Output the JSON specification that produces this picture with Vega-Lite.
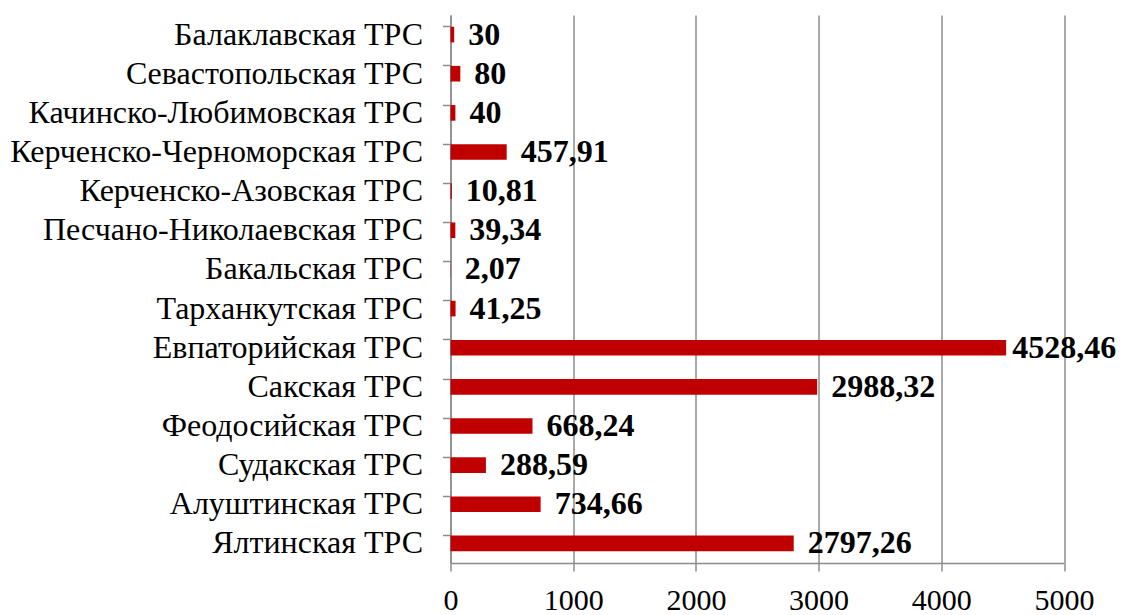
{
  "$schema": "https://vega.github.io/schema/vega-lite/v6.json",
  "width": 613.5,
  "height": 548,
  "autosize": {"type": "none"},
  "padding": {"left": 450.5, "top": 15, "right": 57, "bottom": 52},
  "background": "white",
  "config": {
    "view": {"stroke": null},
    "font": "Liberation Serif"
  },
  "data": {
    "values": [
      {"name": "Балаклавская ТРС", "value": 30, "label": "30"},
      {"name": "Севастопольская ТРС", "value": 80, "label": "80"},
      {"name": "Качинско-Любимовская ТРС", "value": 40, "label": "40"},
      {"name": "Керченско-Черноморская ТРС", "value": 457.91, "label": "457,91"},
      {"name": "Керченско-Азовская ТРС", "value": 10.81, "label": "10,81"},
      {"name": "Песчано-Николаевская ТРС", "value": 39.34, "label": "39,34"},
      {"name": "Бакальская ТРС", "value": 2.07, "label": "2,07"},
      {"name": "Тарханкутская ТРС", "value": 41.25, "label": "41,25"},
      {"name": "Евпаторийская ТРС", "value": 4528.46, "label": "4528,46"},
      {"name": "Сакская ТРС", "value": 2988.32, "label": "2988,32"},
      {"name": "Феодосийская ТРС", "value": 668.24, "label": "668,24"},
      {"name": "Судакская ТРС", "value": 288.59, "label": "288,59"},
      {"name": "Алуштинская ТРС", "value": 734.66, "label": "734,66"},
      {"name": "Ялтинская ТРС", "value": 2797.26, "label": "2797,26"}
    ]
  },
  "encoding": {
    "y": {
      "field": "name",
      "type": "nominal",
      "sort": null,
      "scale": {"paddingInner": 0.6, "paddingOuter": 0.3},
      "axis": {
        "title": null,
        "bandPosition": 0,
        "domainColor": "#8c8c8c",
        "domainWidth": 1.5,
        "tickColor": "#8c8c8c",
        "tickWidth": 1.5,
        "tickSize": 8,
        "labelPadding": 20,
        "labelFontSize": 32,
        "labelColor": "#000000",
        "labelFont": "Liberation Serif",
        "labelLimit": 0
      }
    },
    "x": {
      "field": "value",
      "type": "quantitative",
      "scale": {"domain": [0, 5000], "nice": false},
      "axis": {
        "title": null,
        "values": [0, 1000, 2000, 3000, 4000, 5000],
        "format": "d",
        "grid": true,
        "gridColor": "#8c8c8c",
        "gridWidth": 1.5,
        "domainColor": "#8c8c8c",
        "domainWidth": 1.5,
        "tickColor": "#8c8c8c",
        "tickWidth": 1.5,
        "tickSize": 8,
        "labelPadding": 14,
        "labelFontSize": 30,
        "labelColor": "#000000",
        "labelFont": "Liberation Serif",
        "labelFlush": false
      }
    }
  },
  "layer": [
    {
      "mark": {"type": "bar", "color": "#C00000"}
    },
    {
      "transform": [{"filter": "datum.value < 4000"}],
      "mark": {
        "type": "text",
        "align": "left",
        "baseline": "middle",
        "dx": 14,
        "fontSize": 32,
        "fontWeight": "bold",
        "font": "Liberation Serif",
        "color": "#000000"
      },
      "encoding": {"text": {"field": "label"}}
    },
    {
      "transform": [{"filter": "datum.value >= 4000"}],
      "mark": {
        "type": "text",
        "align": "left",
        "baseline": "middle",
        "dx": 6,
        "fontSize": 32,
        "fontWeight": "bold",
        "font": "Liberation Serif",
        "color": "#000000"
      },
      "encoding": {"text": {"field": "label"}}
    }
  ]
}
